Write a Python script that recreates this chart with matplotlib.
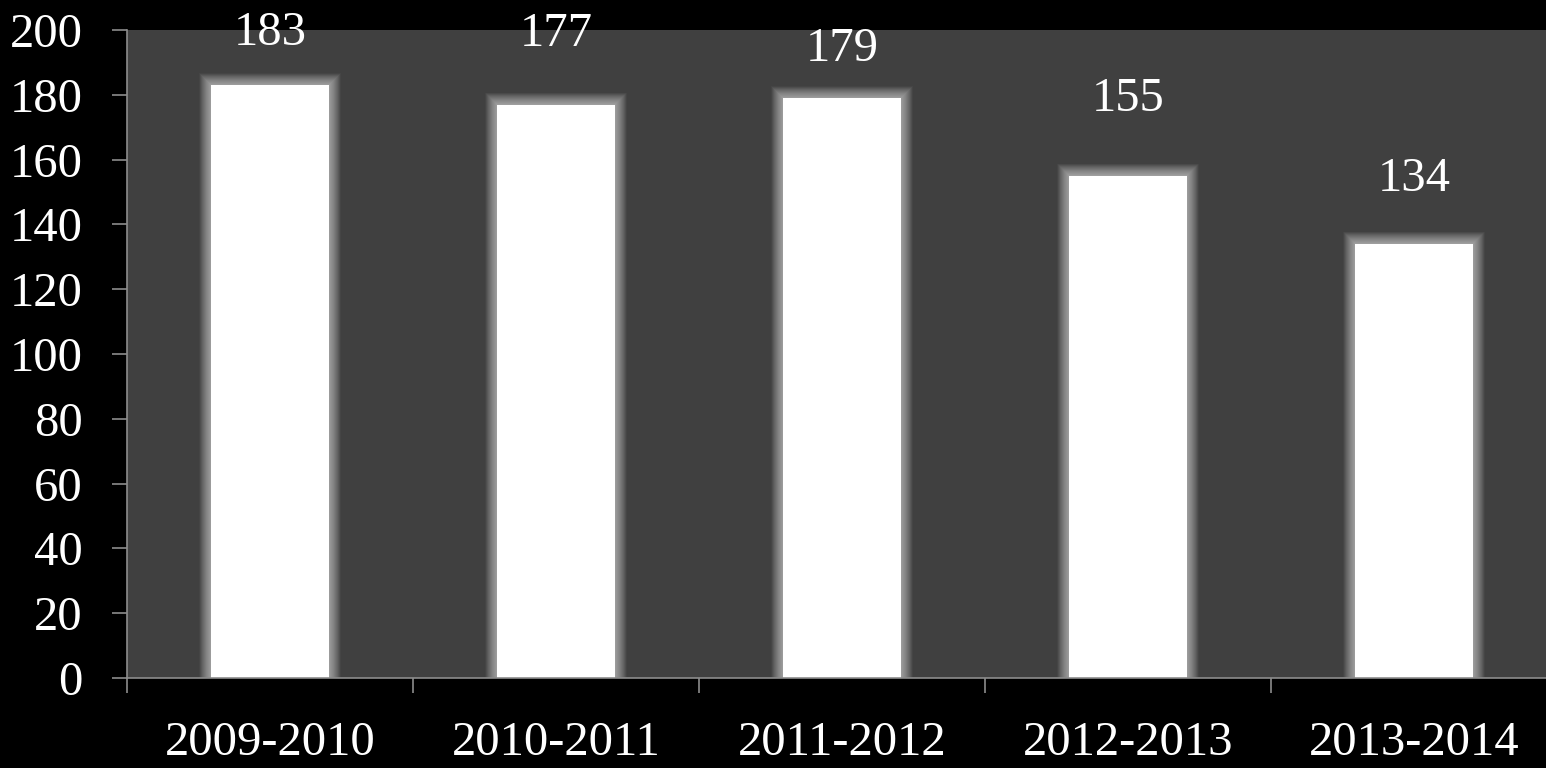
import matplotlib
matplotlib.use("Agg")
import matplotlib.pyplot as plt
import numpy as np

years = ["2009-2010", "2010-2011", "2011-2012", "2012-2013", "2013-2014"]
counts = [183, 177, 179, 155, 134]
label_y = [195.4, 195.1, 190.4, 175.0, 150.3]   # baseline of value labels
yticks = list(range(0, 201, 20))

plt.rcParams["font.family"] = ["Liberation Serif", "DejaVu Serif"]

fig = plt.figure(figsize=(15.46, 7.68), dpi=100, facecolor="black")
ax = fig.add_axes([127/1546, 90/768, 1 - 127/1546, 648/768])
ax.set_facecolor("#404040")

x = np.arange(len(years))
w = 0.41
px_x = 1 / 286          # data units per pixel
px_y = 200 / 648

# soft glow behind the bars
for k in np.arange(12, 0, -0.5):
    ax.bar(x, np.array(counts) + k * px_y, width=w + 2 * k * px_x,
           color="white", alpha=0.032, linewidth=0, zorder=1)
ax.bar(x, counts, width=w, color="white", linewidth=0, zorder=2)

for xi, v, ly in zip(x, counts, label_y):
    ax.text(xi, ly, str(v), ha="center", va="baseline", color="white",
            fontsize=35, zorder=3)

ax.set_ylim(0, 200)
ax.set_xlim(-0.5, -0.5 + 1419 / 286)
ax.set_yticks(yticks)
ax.set_xticks(np.arange(len(years)) - 0.5)
ax.set_xticklabels([])
ax.set_xticks(x, minor=True)
ax.set_xticklabels(years, minor=True)

for s in ["top", "right"]:
    ax.spines[s].set_visible(False)
for s in ["left", "bottom"]:
    ax.spines[s].set_color("#8c8c8c")
    ax.spines[s].set_linewidth(1.2)

ax.tick_params(axis="y", direction="out", length=11, width=1.2, color="#8c8c8c",
               labelcolor="white", labelsize=35, pad=21)
ax.tick_params(axis="x", which="major", direction="out", length=11, width=1.2,
               color="#8c8c8c")
ax.tick_params(axis="x", which="minor", length=0, labelcolor="white",
               labelsize=35, pad=31)

fig.savefig("out.png", dpi=100, facecolor="black")
